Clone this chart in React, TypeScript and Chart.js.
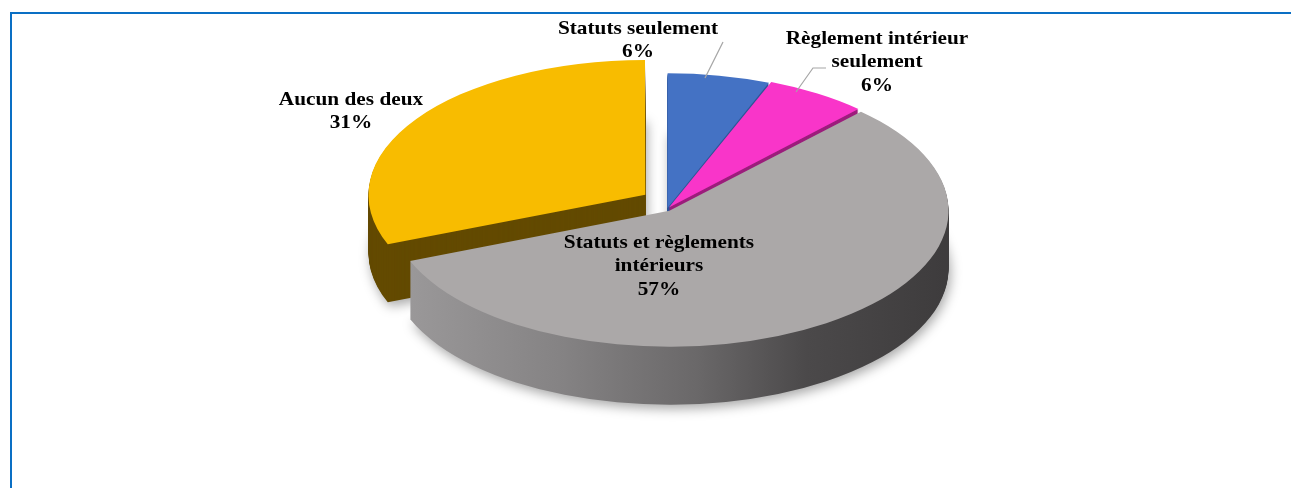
import React, { useEffect, useRef } from "react";
import { Chart, registerables } from "chart.js";

Chart.register(...registerables);

// ---- data ----
const categories = [
  "Statuts seulement",
  "Règlement intérieur seulement",
  "Statuts et règlements intérieurs",
  "Aucun des deux",
];
const labelLines = [
  ["Statuts seulement"],
  ["Règlement intérieur", "seulement"],
  ["Statuts et règlements", "intérieurs"],
  ["Aucun des deux"],
];
const values = [6, 6, 57, 31];

// ---- style ----
const topColors = ["#4472C4", "#F935C9", "#ABA8A8", "#F8BC00"];
const sideColors = ["#2E5597", "#9C1E7C", "GRAY_GRADIENT", "#634A00"];
const explode = [6, 10, 12, 75];
const lift = [0, 0, 0, -7]; // extra vertical shift of exploded slice (screen px)
const PIE = { cx: 667, cy: 209, rx: 275, ry: 134, depth: 58 };
// label centres relative to pie centre (screen px)
const labelPos = [
  { dx: -29, dy: -180 },
  { dx: 210, dy: -170 },
  { dx: -8, dy: 34 },
  { dx: -316, dy: -109 },
];
const LINE_H = 23.5;
const FONT = 'bold 19px "Liberation Serif", "Times New Roman", serif';
const TEXT_STRETCH = 1.12;
// leader lines relative to pie centre
const leaders = [
  [
    [38, -131],
    [56, -167],
  ],
  [
    [129, -117],
    [146, -141],
    [159, -141],
  ],
];

const drawWith = (ctx: CanvasRenderingContext2D, arc: any, fill: any) => {
  const p = Object.create(arc);
  p.options = Object.assign({}, arc.options, { backgroundColor: fill, borderWidth: 0 });
  p.draw(ctx);
};

const pie3d = {
  id: "pie3d",
  beforeDatasetsDraw(chart: any) {
    const ctx: CanvasRenderingContext2D = chart.ctx;
    const meta = chart.getDatasetMeta(0);
    const arcs = meta.data;
    if (!arcs || !arcs.length) return;
    const a0 = arcs[0];
    const r = a0.outerRadius;
    const sx = PIE.rx / r;
    const sy = PIE.ry / r;
    ctx.save();
    ctx.translate(PIE.cx, PIE.cy);
    ctx.scale(sx, sy);
    ctx.translate(-a0.x, -a0.y);

    const grad = ctx.createLinearGradient(a0.x - r, 0, a0.x + r, 0);
    grad.addColorStop(0, "#9C9A9B");
    grad.addColorStop(0.3, "#858384");
    grad.addColorStop(0.55, "#6A6869");
    grad.addColorStop(0.75, "#4B494A");
    grad.addColorStop(1, "#3E3C3D");

    const steps = PIE.depth;
    for (let i = steps; i >= 1; i--) {
      ctx.save();
      ctx.translate(0, i / sy);
      if (i === steps) {
        ctx.shadowColor = "rgba(0,0,0,0.35)";
        ctx.shadowBlur = 12;
        ctx.shadowOffsetX = 2;
        ctx.shadowOffsetY = 4;
      }
      arcs.forEach((arc: any, k: number) => {
        ctx.save();
        ctx.translate(0, lift[k] / sy);
        const fill = sideColors[k] === "GRAY_GRADIENT" ? grad : sideColors[k];
        drawWith(ctx, arc, fill);
        ctx.restore();
      });
      ctx.restore();
    }
    // top faces
    arcs.forEach((arc: any, k: number) => {
      ctx.save();
      ctx.translate(0, lift[k] / sy);
      drawWith(ctx, arc, arc.options.backgroundColor);
      ctx.restore();
    });
    ctx.restore();
    return false;
  },
  afterDraw(chart: any) {
    const ctx: CanvasRenderingContext2D = chart.ctx;
    const total = values.reduce((a, b) => a + b, 0);
    ctx.save();
    // leader lines
    ctx.strokeStyle = "#A6A6A6";
    ctx.lineWidth = 1.2;
    leaders.forEach((pts) => {
      ctx.beginPath();
      pts.forEach(([x, y], i) => {
        if (i === 0) ctx.moveTo(PIE.cx + x, PIE.cy + y);
        else ctx.lineTo(PIE.cx + x, PIE.cy + y);
      });
      ctx.stroke();
    });
    // labels
    ctx.font = FONT;
    ctx.fillStyle = "#000000";
    ctx.textAlign = "center";
    ctx.textBaseline = "middle";
    labelLines.forEach((lines, k) => {
      const pct = Math.round((values[k] / total) * 100) + "%";
      const all = [...lines, pct];
      const x = PIE.cx + labelPos[k].dx;
      const y0 = PIE.cy + labelPos[k].dy;
      all.forEach((t, j) => {
        ctx.save();
        ctx.translate(x, y0 + j * LINE_H);
        ctx.scale(TEXT_STRETCH, 1);
        ctx.fillText(t, 0, 0);
        ctx.restore();
      });
    });
    ctx.restore();
  },
};

export default function App() {
  const ref = useRef<HTMLCanvasElement | null>(null);
  useEffect(() => {
    document.body.style.margin = "0";
    const canvas = ref.current;
    if (!canvas) return;
    const chart = new Chart(canvas, {
      type: "pie",
      data: {
        labels: categories,
        datasets: [
          {
            data: values,
            backgroundColor: topColors,
            borderWidth: 0,
            offset: explode,
            clip: false as any,
          } as any,
        ],
      },
      options: {
        animation: false,
        responsive: false,
        events: [],
        layout: { padding: 10 },
        plugins: {
          legend: { display: false },
          tooltip: { enabled: false },
        },
      },
      plugins: [pie3d],
    });
    return () => chart.destroy();
  }, []);

  return (
    <div
      style={{
        position: "fixed",
        left: 0,
        top: 0,
        width: 1291,
        height: 488,
        background: "#ffffff",
        overflow: "hidden",
      }}
    >
      <canvas
        ref={ref}
        width={1291}
        height={488}
        style={{ position: "absolute", left: 0, top: 0, width: 1291, height: 488 }}
      />
      <div
        style={{
          position: "absolute",
          left: 10,
          top: 12,
          right: 0,
          bottom: 0,
          borderTop: "2px solid #0A6FC4",
          borderLeft: "2px solid #0A6FC4",
          pointerEvents: "none",
        }}
      />
    </div>
  );
}
